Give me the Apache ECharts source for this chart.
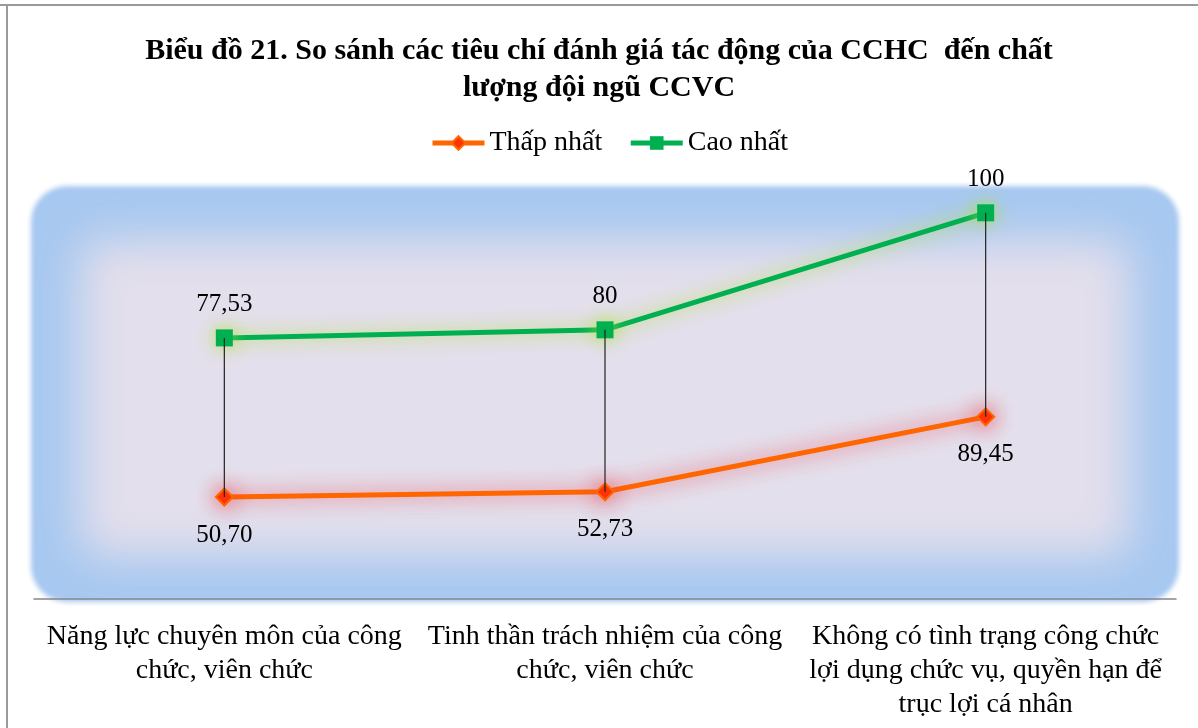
<!DOCTYPE html>
<html>
<head>
<meta charset="utf-8">
<script src="https://cdn.jsdelivr.net/npm/echarts@6/dist/echarts.min.js"></script>
<style>
  html, body { margin: 0; padding: 0; background: #fff; }
  #chart { width: 1198px; height: 728px; }
</style>
</head>
<body>
<div id="chart"></div>
<script>
// danh mục tiêu chí
const categories = [
  "Năng lực chuyên môn của công\nchức, viên chức",
  "Tinh thần trách nhiệm của công\nchức, viên chức",
  "Không có tình trạng công chức\nlợi dụng chức vụ, quyền hạn để\ntrục lợi cá nhân"
];
// vị trí điểm
const lowValues = [50.7, 51.6, 64.6];
const highValues = [78.3, 79.7, 100];
// nhãn số in trên hình
const lowLabels = ["50,70", "52,73", "89,45"];
const highLabels = ["77,53", "80", "100"];

const serif = "'Liberation Serif', 'DejaVu Serif', serif";
const chart = echarts.init(document.getElementById("chart"));

// hình chữ nhật mờ: vẽ ngoài màn hình, chỉ hiện bóng
const OFF = 3000;
function softRect(x, y, w, h, r, color, blur, z) {
  return {
    type: "rect", z: z,
    shape: { x: x - OFF, y: y, width: w, height: h, r: r },
    style: { fill: color, shadowBlur: blur, shadowColor: color, shadowOffsetX: OFF }
  };
}

const option = {
  backgroundColor: "#fff",
  title: {
    text: "Biểu đồ 21. So sánh các tiêu chí đánh giá tác động của CCHC  đến chất\nlượng đội ngũ CCVC",
    left: "center",
    top: 28,
    textStyle: { fontFamily: serif, fontSize: 30, fontWeight: "bold", color: "#000", lineHeight: 37 }
  },
  legend: {
    top: 124,
    left: 425,
    itemWidth: 52,
    itemHeight: 17,
    itemGap: 26,
    lineStyle: { width: 5, shadowBlur: 0 },
    itemStyle: { shadowBlur: 0 },
    textStyle: { fontFamily: serif, fontSize: 28, color: "#000" },
    data: ["Thấp nhất", "Cao nhất"]
  },
  graphic: [
    // khung ngoài
    { type: "line", z: -5, shape: { x1: 0, y1: 5, x2: 1198, y2: 5 }, style: { stroke: "#9a9a9a", lineWidth: 2 } },
    { type: "line", z: -5, shape: { x1: 7, y1: 5, x2: 7, y2: 728 }, style: { stroke: "#9a9a9a", lineWidth: 2 } },
    // nền vùng vẽ
    softRect(31, 186, 1148, 416, 36, "#a7c8f0", 5, -4),
    softRect(80, 240, 1050, 316, 20, "#e4dfec", 45, -3)
  ],
  grid: { left: 34, right: 22, top: 184, bottom: 129 },
  xAxis: {
    type: "category",
    data: categories,
    boundaryGap: true,
    axisLine: { lineStyle: { color: "#868686", width: 1.5 } },
    axisTick: { show: false },
    axisLabel: { interval: 0, margin: 21, fontFamily: serif, fontSize: 28, color: "#000", lineHeight: 34 }
  },
  yAxis: {
    type: "value",
    min: 33,
    max: 105,
    show: false,
    splitLine: { show: false }
  },
  series: [
    {
      name: "Thấp nhất",
      type: "line",
      data: lowValues,
      symbol: "diamond",
      symbolSize: 17,
      z: 3,
      lineStyle: { color: "#ff6600", width: 5, shadowBlur: 20, shadowColor: "rgba(235,60,70,0.9)" },
      itemStyle: { color: "#ff3300", borderColor: "#ff6600", borderWidth: 2, shadowBlur: 20, shadowColor: "rgba(235,60,70,0.9)" },
      label: {
        show: true, position: "bottom", distance: 16,
        fontFamily: serif, fontSize: 25, color: "#000",
        formatter: (p) => lowLabels[p.dataIndex]
      }
    },
    {
      name: "Cao nhất",
      type: "line",
      data: highValues,
      symbol: "rect",
      symbolSize: 17,
      z: 3,
      lineStyle: { color: "#00b050", width: 5, shadowBlur: 18, shadowColor: "rgba(170,225,60,0.95)" },
      itemStyle: { color: "#00b050", shadowBlur: 18, shadowColor: "rgba(170,225,60,0.95)" },
      label: {
        show: true, position: "top", distance: 12,
        fontFamily: serif, fontSize: 25, color: "#000",
        formatter: (p) => highLabels[p.dataIndex]
      }
    },
    {
      // đường nối cao - thấp
      type: "custom",
      z: 5,
      silent: true,
      data: categories.map((c, i) => [i, lowValues[i], highValues[i]]),
      encode: { x: 0, y: [1, 2] },
      renderItem: (params, api) => {
        const a = api.coord([api.value(0), api.value(1)]);
        const b = api.coord([api.value(0), api.value(2)]);
        return {
          type: "line",
          shape: { x1: a[0], y1: a[1], x2: b[0], y2: b[1] },
          style: { stroke: "#222", lineWidth: 1.2 }
        };
      }
    }
  ]
};
chart.setOption(option);
</script>
</body>
</html>
